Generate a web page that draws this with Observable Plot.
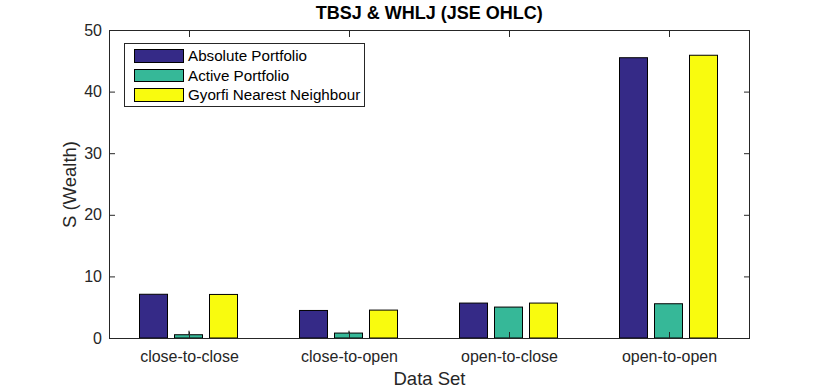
<!DOCTYPE html>
<html><head><meta charset="utf-8">
<script src="https://cdn.jsdelivr.net/npm/d3@7"></script>
<script src="https://cdn.jsdelivr.net/npm/@observablehq/plot@0.6"></script>
<style>
html,body{margin:0;padding:0;background:#fff;}
body{font-family:"Liberation Sans",Arial,Helvetica,sans-serif;color:#262626;}
#wrap{position:relative;width:830px;height:389px;overflow:hidden;}
#title{position:absolute;left:107.5px;width:643.5px;top:3px;text-align:center;font-weight:bold;font-size:18px;line-height:20px;color:#000;}
#legend{position:absolute;left:124px;top:43px;width:241px;height:64px;box-sizing:border-box;border:1px solid #262626;background:#fff;}
.item{position:absolute;left:9px;height:14px;}
.sw{position:absolute;left:0;top:0;width:50px;height:13.5px;box-sizing:border-box;border:1px solid #000;}
.lab{position:absolute;left:54px;top:-3px;font-size:15.2px;line-height:19px;white-space:nowrap;color:#000;}
svg [aria-label="y-axis label"] text, svg [aria-label="fx-axis label"] text{font-size:18.5px;}
</style></head><body>
<div id="wrap"></div>
<script>
const categories = ["close-to-close", "close-to-open", "open-to-close", "open-to-open"];
const series = ["Absolute Portfolio", "Active Portfolio", "Gyorfi Nearest Neighbour"];
const absolutePortfolio = [7.1, 4.47, 5.67, 45.5];
const activePortfolio = [0.53, 0.8, 5.02, 5.56];
const gyorfiNN = [7.07, 4.53, 5.67, 45.9];
const activeErr = [0.65, 0.38, 0, 0];
const yTicks = [0, 10, 20, 30, 40, 50];
const colors = ["#352A87", "#36B898", "#F9FB0E"];
const titleText = "TBSJ & WHLJ (JSE OHLC)";
const xLabel = "Data Set";
const yLabel = "S (Wealth)";

const valuesBySeries = [absolutePortfolio, activePortfolio, gyorfiNN];
const table = [];
categories.forEach((c, i) => series.forEach((s, j) => table.push({cat: c, series: s, value: valuesBySeries[j][i]})));
const errRows = categories.map((c, i) => ({cat: c, series: series[1], lo: activePortfolio[i], hi: activePortfolio[i] + activeErr[i]})).filter(d => d.hi > d.lo);

const axisColor = "#262626";
const plot = Plot.plot({
  width: 830, height: 389,
  marginLeft: 107.5, marginRight: 79, marginTop: 30, marginBottom: 51,
  style: {fontFamily: '"Liberation Sans", Arial, Helvetica, sans-serif', fontSize: "16px", color: axisColor, background: "#fff", overflow: "visible"},
  fx: {domain: categories, padding: 0},
  x: {domain: series, axis: null, paddingInner: 0.19, paddingOuter: 0.82},
  y: {domain: [0, 50]},
  color: {domain: series, range: colors},
  marks: [
    Plot.barY(table, {fx: "cat", x: "series", y: "value", fill: "series", stroke: "#000", strokeWidth: 1}),
    Plot.ruleX(errRows, {fx: "cat", x: "series", y1: "lo", y2: "hi", stroke: "#000", strokeWidth: 1}),
    Plot.axisY({anchor: "left", ticks: yTicks, tickSize: 0, tickPadding: 7.5, fontSize: 16, label: yLabel, labelAnchor: "center", labelArrow: "none", labelOffset: 47}),
    Plot.axisY({anchor: "left", ticks: yTicks, tickSize: -6, tickFormat: () => "", label: null, stroke: axisColor}),
    Plot.axisY({anchor: "right", ticks: yTicks, tickSize: -6, tickFormat: () => "", label: null, stroke: axisColor}),
    Plot.axisFx({anchor: "bottom", tickSize: 0, tickPadding: 12, fontSize: 16, label: xLabel, labelAnchor: "center", labelArrow: "none", labelOffset: 46}),
    Plot.axisFx({anchor: "bottom", tickSize: -6, tickFormat: () => "", label: null, stroke: axisColor}),
    Plot.axisFx({anchor: "top", tickSize: -6, tickFormat: () => "", label: null, stroke: axisColor}),
    Plot.frame({anchor: "top", stroke: axisColor}),
    Plot.frame({anchor: "bottom", stroke: axisColor}),
    Plot.frame({anchor: "left", facetAnchor: "left", stroke: axisColor}),
    Plot.frame({anchor: "right", facetAnchor: "right", stroke: axisColor})
  ]
});

const wrap = document.getElementById("wrap");
wrap.appendChild(plot);
const t = document.createElement("div");
t.id = "title"; t.textContent = titleText; wrap.appendChild(t);
const lg = document.createElement("div");
lg.id = "legend";
series.forEach((s, i) => {
  const it = document.createElement("div");
  it.className = "item"; it.style.top = (5.3 + 19.5 * i) + "px";
  const sw = document.createElement("div"); sw.className = "sw"; sw.style.background = colors[i];
  const lb = document.createElement("div"); lb.className = "lab"; lb.textContent = s;
  it.appendChild(sw); it.appendChild(lb); lg.appendChild(it);
});
wrap.appendChild(lg);
</script>
</body></html>
